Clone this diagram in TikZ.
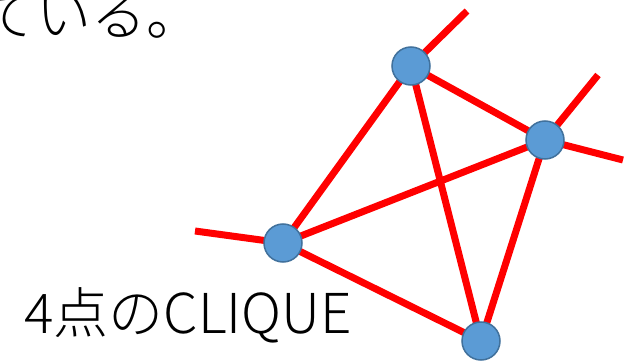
\documentclass[tikz,border=0pt]{standalone}
\usepackage{fontspec}
\IfFontExistsTF{Noto Sans CJK JP Light}
  {\newfontfamily\jpfont{Noto Sans CJK JP Light}}
  {\newfontfamily\jpfont{Noto Sans CJK JP}}
\usetikzlibrary{backgrounds}

\definecolor{vblue}{RGB}{91,155,213}
\definecolor{vedge}{RGB}{65,113,156}

\tikzset{
  vertex/.style={circle,fill=vblue,draw=vedge,line width=1.5pt,minimum size=38pt,inner sep=0pt},
  link/.style={red,line width=7pt},
  caption/.style={font=\jpfont\fontsize{55}{60}\selectfont,inner sep=0pt}
}

\begin{document}
\begin{tikzpicture}[x=1pt,y=-1pt]
        \useasboundingbox (0,0) rectangle (641,361);
        \node[caption,anchor=base west] (top) at (-19,36) {ている。};
        \node[caption,anchor=base west] (name) at (24,333) {4点のCLIQUE};
        \node[vertex] (a) at (411,66) {};
        \node[vertex] (b) at (545,140) {};
        \node[vertex] (c) at (283,243) {};
        \node[vertex] (d) at (481,341) {};
        \coordinate (ae) at (467,11);
        \coordinate (be1) at (598,75);
        \coordinate (be2) at (623,160);
        \coordinate (ce) at (195,231);
        \begin{scope}[on background layer]
        \draw[link]
        (a.center) -- (ae)
        (a.center) -- (b.center)
        (a.center) -- (c.center)
        (a.center) -- (d.center)
        (b.center) -- (be1)
        (b.center) -- (be2)
        (b.center) -- (c.center)
        (b.center) -- (d.center)
        (c.center) -- (ce)
        (c.center) -- (d.center);
        \end{scope}
      \end{tikzpicture}
\end{document}
